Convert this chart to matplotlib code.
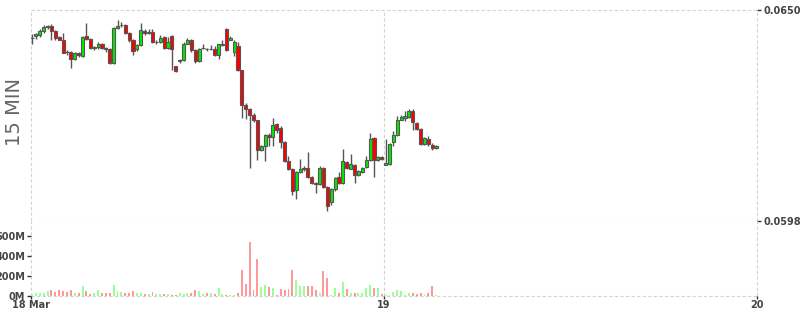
import numpy as np
import matplotlib
matplotlib.use('Agg')
import matplotlib.pyplot as plt

plt.rcParams['font.family'] = ['DejaVu Sans']

# 15 minute bars starting 18 Mar 01:15, x axis = hours since 18 Mar 00:00
first_bar_hour = 1.25
bar_len = 0.25

opens = [0.06430, 0.06435, 0.06438, 0.06448, 0.06457, 0.06460, 0.06448, 0.06434, 0.06427, 0.06397,
         0.06396, 0.06380, 0.06394, 0.06386, 0.06435, 0.06429, 0.06407, 0.06409, 0.06415, 0.06407,
         0.06403, 0.06370, 0.06456, 0.06462, 0.06463, 0.06444, 0.06426, 0.06403, 0.06413, 0.06448,
         0.06444, 0.06446, 0.06421, 0.06422, 0.06434, 0.06407, 0.06435, 0.06362, 0.06374, 0.06376,
         0.06417, 0.06426, 0.06401, 0.06374, 0.06406, 0.06405, 0.06404, 0.06405, 0.06390, 0.06413,
         0.06454, 0.06427, 0.06397, 0.06411, 0.06352, 0.06267, 0.06255, 0.06242, 0.06228, 0.06156,
         0.06164, 0.06192, 0.06187, 0.06218, 0.06210, 0.06175, 0.06128, 0.06107, 0.06056, 0.06100,
         0.06107, 0.06111, 0.06089, 0.06074, 0.06070, 0.06111, 0.06064, 0.06027, 0.06060, 0.06088,
         0.06074, 0.06125, 0.06109, 0.06117, 0.06093, 0.06101, 0.06113, 0.06130, 0.06185, 0.06131,
         0.06138, 0.06119, 0.06121, 0.06175, 0.06192, 0.06230, 0.06234, 0.06237, 0.06251, 0.06222,
         0.06207, 0.06170, 0.06182, 0.06168, 0.06160]
highs = [0.06440, 0.06444, 0.06454, 0.06462, 0.06464, 0.06465, 0.06450, 0.06436, 0.06444, 0.06401,
         0.06398, 0.06396, 0.06397, 0.06436, 0.06467, 0.06431, 0.06411, 0.06421, 0.06419, 0.06410,
         0.06407, 0.06458, 0.06475, 0.06470, 0.06465, 0.06446, 0.06428, 0.06415, 0.06468, 0.06452,
         0.06454, 0.06452, 0.06426, 0.06438, 0.06437, 0.06434, 0.06438, 0.06363, 0.06380, 0.06420,
         0.06431, 0.06429, 0.06403, 0.06407, 0.06415, 0.06407, 0.06413, 0.06411, 0.06417, 0.06426,
         0.06456, 0.06435, 0.06426, 0.06422, 0.06353, 0.06271, 0.06258, 0.06245, 0.06230, 0.06168,
         0.06194, 0.06197, 0.06234, 0.06222, 0.06213, 0.06177, 0.06140, 0.06110, 0.06103, 0.06133,
         0.06115, 0.06149, 0.06091, 0.06076, 0.06115, 0.06113, 0.06066, 0.06062, 0.06088, 0.06100,
         0.06158, 0.06128, 0.06144, 0.06120, 0.06105, 0.06113, 0.06140, 0.06197, 0.06187, 0.06140,
         0.06140, 0.06182, 0.06172, 0.06201, 0.06239, 0.06242, 0.06251, 0.06255, 0.06255, 0.06224,
         0.06209, 0.06187, 0.06190, 0.06172, 0.06167]
lows = [0.06415, 0.06429, 0.06433, 0.06444, 0.06454, 0.06427, 0.06427, 0.06425, 0.06394, 0.06390,
        0.06357, 0.06376, 0.06385, 0.06384, 0.06427, 0.06405, 0.06401, 0.06405, 0.06403, 0.06397,
        0.06368, 0.06368, 0.06454, 0.06458, 0.06442, 0.06420, 0.06388, 0.06399, 0.06411, 0.06438,
        0.06440, 0.06419, 0.06417, 0.06419, 0.06403, 0.06405, 0.06353, 0.06347, 0.06370, 0.06374,
        0.06415, 0.06397, 0.06370, 0.06372, 0.06403, 0.06399, 0.06401, 0.06386, 0.06380, 0.06411,
        0.06399, 0.06425, 0.06386, 0.06350, 0.06234, 0.06232, 0.06111, 0.06224, 0.06131, 0.06152,
        0.06127, 0.06166, 0.06164, 0.06197, 0.06160, 0.06125, 0.06105, 0.06043, 0.06033, 0.06098,
        0.06103, 0.06086, 0.06070, 0.06048, 0.06068, 0.06062, 0.06004, 0.06020, 0.06053, 0.06072,
        0.06072, 0.06107, 0.06107, 0.06074, 0.06091, 0.06099, 0.06111, 0.06128, 0.06088, 0.06128,
        0.06131, 0.06117, 0.06119, 0.06164, 0.06190, 0.06228, 0.06226, 0.06235, 0.06205, 0.06205,
        0.06168, 0.06168, 0.06166, 0.06154, 0.06158]
closes = [0.06431, 0.06440, 0.06448, 0.06458, 0.06460, 0.06448, 0.06431, 0.06427, 0.06394, 0.06396,
          0.06380, 0.06394, 0.06388, 0.06434, 0.06429, 0.06407, 0.06408, 0.06417, 0.06407, 0.06403,
          0.06370, 0.06456, 0.06460, 0.06463, 0.06444, 0.06426, 0.06399, 0.06413, 0.06450, 0.06444,
          0.06447, 0.06421, 0.06422, 0.06431, 0.06407, 0.06421, 0.06404, 0.06349, 0.06378, 0.06417,
          0.06426, 0.06401, 0.06374, 0.06405, 0.06407, 0.06403, 0.06405, 0.06390, 0.06415, 0.06417,
          0.06401, 0.06431, 0.06422, 0.06352, 0.06267, 0.06255, 0.06242, 0.06228, 0.06156, 0.06164,
          0.06192, 0.06187, 0.06216, 0.06204, 0.06175, 0.06128, 0.06107, 0.06053, 0.06100, 0.06108,
          0.06111, 0.06089, 0.06074, 0.06070, 0.06111, 0.06064, 0.06016, 0.06060, 0.06086, 0.06074,
          0.06127, 0.06111, 0.06121, 0.06093, 0.06103, 0.06111, 0.06130, 0.06183, 0.06131, 0.06138,
          0.06134, 0.06123, 0.06169, 0.06193, 0.06230, 0.06237, 0.06238, 0.06251, 0.06224, 0.06207,
          0.06170, 0.06185, 0.06169, 0.06160, 0.06165]
# volume in millions
volumes = [18, 28, 28, 35, 46, 63, 42, 63, 53, 42,
           63, 28, 28, 98, 53, 18, 28, 63, 28, 28,
           28, 112, 53, 42, 28, 28, 53, 28, 28, 18,
           18, 42, 18, 18, 18, 18, 11, 11, 28, 18,
           28, 28, 63, 53, 18, 28, 28, 18, 77, 18,
           11, 7, 7, 35, 263, 123, 544, 63, 375, 88,
           112, 88, 81, 11, 70, 63, 70, 256, 158, 105,
           105, 105, 105, 63, 28, 253, 176, 7, 81, 28,
           140, 70, 35, 28, 28, 28, 81, 112, 81, 81,
           18, 7, 11, 42, 63, 53, 11, 35, 28, 18,
           35, 18, 28, 98, 11]

day_ticks = [1.29, 24, 48]
day_labels = ['18 Mar', '19', '20']
price_ticks = [0.0598, 0.0650]
vol_ticks = [0, 200, 400, 600]

o = np.array(opens)
h = np.array(highs)
l = np.array(lows)
c = np.array(closes)
x = first_bar_hour + bar_len * (np.arange(len(o)) + 0.5)
up = c >= o

body_cols = np.where(up, '#00ee00', '#ff0000')
vol_cols = np.where(up, '#99ff99', '#ff9999')

fig = plt.figure(figsize=(8, 3.15), dpi=100)
ax = fig.add_axes([30.7 / 800, 1 - 221 / 315, 726 / 800, 211 / 315])
axv = fig.add_axes([30.7 / 800, 1 - 296 / 315, 726 / 800, 75 / 315])

grid_kw = dict(color='#d3d3d3', linestyle=(0, (3, 2)), linewidth=0.8, clip_on=False, zorder=0)

# candles
ax.vlines(x, l, h, color='#555555', linewidth=1, zorder=2)
ax.bar(x, np.maximum(np.abs(c - o), 0.000008), bottom=np.minimum(o, c), width=bar_len * 0.8,
       color=body_cols, edgecolor='#555555', linewidth=0.8, zorder=3)
ax.set_xlim(day_ticks[0], day_ticks[-1])
ax.set_ylim(price_ticks[0], price_ticks[-1])
for p in price_ticks:
    ax.axhline(p, **grid_kw)
for d in day_ticks:
    ax.axvline(d, **grid_kw)
ax.yaxis.tick_right()
ax.set_yticks(price_ticks)
ax.set_yticklabels(['%.4f' % p for p in price_ticks])
ax.tick_params(axis='y', length=3, width=1, color='#333333', labelsize=7, labelcolor='#444444', pad=2)
ax.tick_params(axis='x', length=0, labelbottom=False)
for lab in ax.get_yticklabels():
    lab.set_fontweight('bold')
for s in ax.spines.values():
    s.set_visible(False)

# volume
axv.bar(x, volumes, width=bar_len * 0.5, color=vol_cols, zorder=2)
axv.set_xlim(day_ticks[0], day_ticks[-1])
axv.set_ylim(0, 750)
axv.axhline(0, **grid_kw)
for d in day_ticks:
    axv.axvline(d, **grid_kw)
axv.set_yticks(vol_ticks)
axv.set_yticklabels(['%dM' % v for v in vol_ticks])
axv.set_xticks(day_ticks)
axv.set_xticklabels(day_labels)
axv.tick_params(axis='y', length=3, width=1, color='#333333', labelsize=7, labelcolor='#444444', pad=1)
axv.tick_params(axis='x', length=2, width=1, color='#333333', labelsize=7, labelcolor='#444444', pad=1)
for lab in axv.get_yticklabels() + axv.get_xticklabels():
    lab.set_fontweight('bold')
for s in axv.spines.values():
    s.set_visible(False)

fig.text(15 / 800, 1 - 112 / 315, '15 MIN', rotation=90, fontsize=14, color='#666666',
         ha='center', va='center')

fig.savefig('out.png', dpi=100)
